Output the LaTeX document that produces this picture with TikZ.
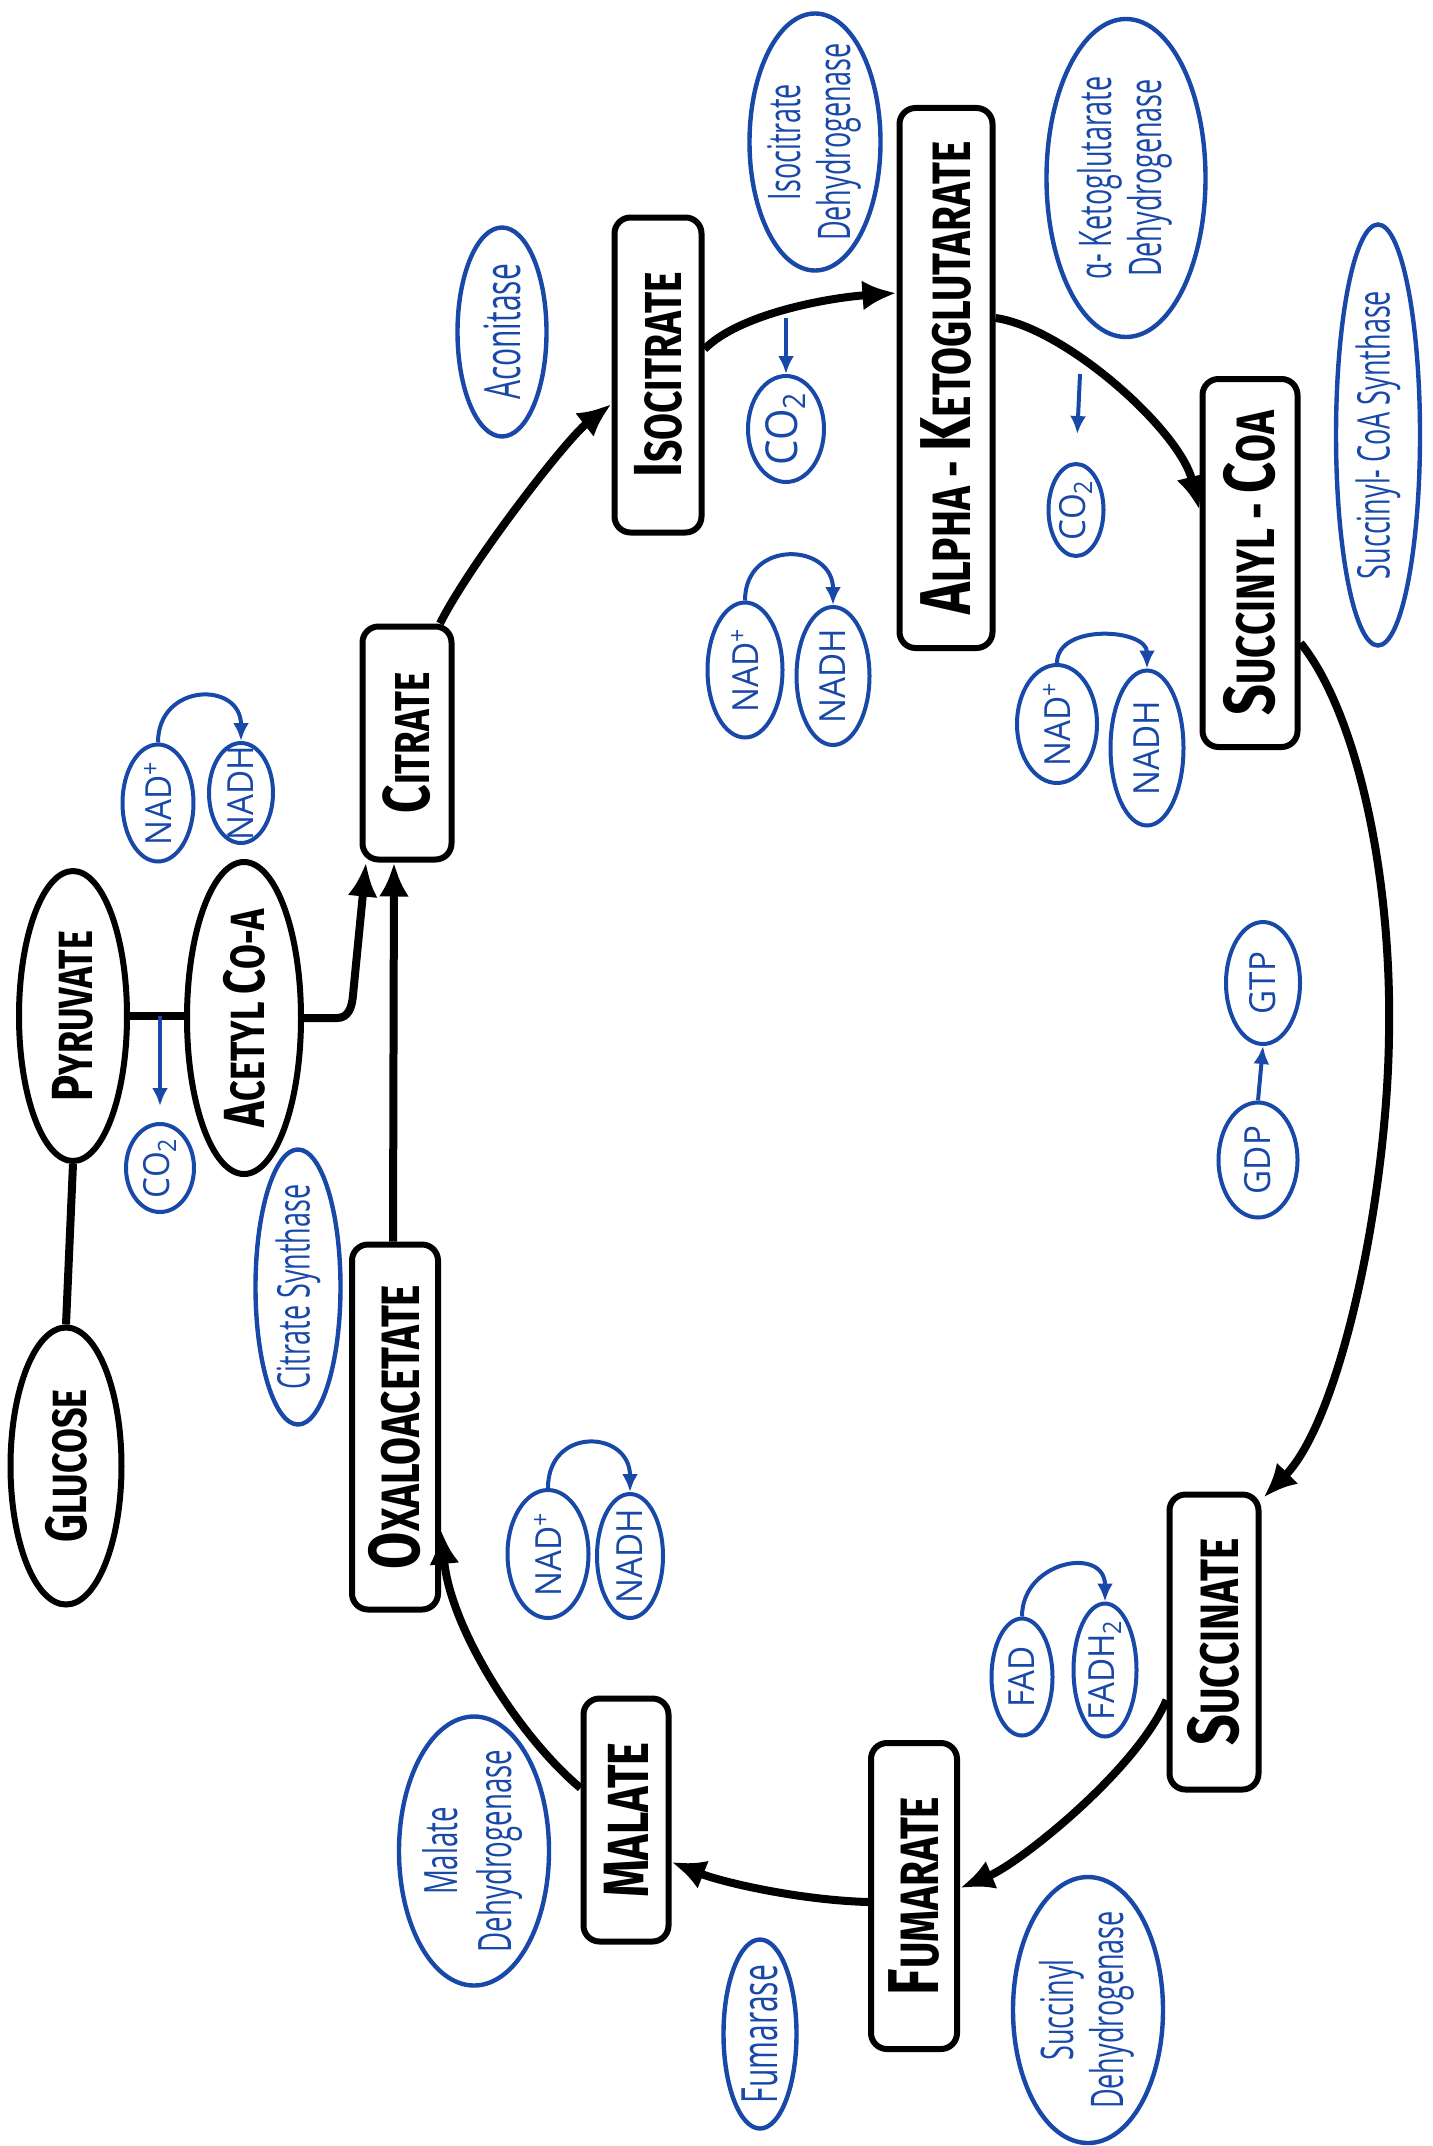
\documentclass[tikz,border=0pt]{standalone}
\usepackage{fontspec}
\usepackage{graphicx}
\usetikzlibrary{shapes.geometric,arrows.meta,calc}

\newfontfamily\capfont[FakeStretch=0.75]{Fira Sans}
\newfontfamily\enzfont[FakeStretch=0.6]{Open Sans}
\newfontfamily\cofont[FakeStretch=0.92]{Open Sans}
\definecolor{inkblue}{RGB}{24,72,168}

% hand-lettered small capitals: one large initial, smaller remainder
\def\capbig{36}
\def\capsmall{27}
\newcommand{\capword}[2]{{\fontsize{\capbig}{\capbig}\selectfont #1}{\fontsize{\capsmall}{\capsmall}\selectfont #2}}
% text set upright along the page, taking no room inside its shape
\newcommand{\vtext}[1]{\makebox[0pt]{\smash{\raisebox{-.5\height}{\rotatebox{90}{#1}}}}}
\newcommand{\twolines}[2]{\begin{tabular}{@{}c@{}}#1\\#2\end{tabular}}

\begin{document}
\begin{tikzpicture}[x=0.5pt,y=-0.5pt,
  sz/.style 2 args={minimum width={#1*0.5pt},minimum height={#2*0.5pt}},
  metab/.style={draw,line width=3pt,rounded corners=8pt,inner sep=0pt,
    font={\capfont\bfseries}},
  fuel/.style={draw,ellipse,line width=3pt,inner sep=0pt,
    font={\capfont\bfseries\def\capbig{29}\def\capsmall{24}}},
  enz/.style={draw=inkblue,ellipse,line width=2.2pt,inner sep=0pt,text=inkblue,
    font={\enzfont\fontsize{22.5}{25}\selectfont}},
  cof/.style={draw=inkblue,ellipse,line width=2pt,inner sep=0pt,text=inkblue,
    font={\cofont\fontsize{18}{18}\selectfont}},
  flow/.style={line width=4pt,-{Latex[length=17pt,width=15pt]}},
  link/.style={line width=4pt},
  blueflow/.style={draw=inkblue,line width=2pt,-{Latex[length=9pt,width=8pt]}}]

\fill[white] (0,0) rectangle (1433,2146);
\useasboundingbox (0,0) rectangle (1433,2146);

% ---------- glycolysis entry ----------
\node[fuel,sz={111}{277}] (glu) at (66,1466) {\vtext{\capword{G}{LUCOSE}}};
\node[fuel,sz={108}{290}] (pyr) at (73,1016) {\vtext{\capword{P}{YRUVATE}}};
\node[fuel,sz={114}{312}] (ace) at (244,1018) {\vtext{\capword{A}{CETYL}\hspace{0.4em}\capword{C}{O-A}}};

% ---------- cycle intermediates ----------
\node[metab,sz={89}{233}] (cit) at (407,743) {\vtext{\def\capbig{33}\def\capsmall{24.5}\capword{C}{ITRATE}}};
\node[metab,sz={87}{315}] (iso) at (658,375) {\vtext{\def\capbig{34}\def\capsmall{26}\capword{I}{SOCITRATE}}};
\node[metab,sz={93}{540}] (akg) at (946,378) {\vtext{\capword{A}{LPHA - }\capword{K}{ETOGLUTARATE}}};
\node[metab,sz={95}{368}] (sco) at (1250,563) {\vtext{\capword{S}{UCCINYL - }\capword{C}{OA}}};
\node[metab,sz={89}{295}] (suc) at (1214,1642) {\vtext{\capword{S}{UCCINATE}}};
\node[metab,sz={86}{306}] (fum) at (914,1896) {\vtext{\capword{F}{UMARATE}}};
\node[metab,sz={85}{243}] (mal) at (626,1820) {\vtext{\def\capbig{32}\def\capsmall{29}\capword{M}{ALATE}}};
\node[metab,sz={86}{365}] (oxa) at (395,1427) {\vtext{\capword{O}{XALOACETATE}}};

% ---------- enzymes ----------
\node[enz,sz={89}{209}] (acon) at (502,332) {\vtext{\fontsize{25}{25}\selectfont Aconitase}};
\node[enz,sz={131}{257}] (idh) at (815,142) {\vtext{\twolines{Isocitrate}{Dehydrogenase}}};
\node[enz,sz={159}{318}] (akgdh) at (1126,178) {\vtext{\twolines{α- Ketoglutarate}{Dehydrogenase}}};
\node[enz,sz={84}{421}] (scs) at (1378,435) {\vtext{Succinyl- CoA Synthase}};
\node[enz,sz={85}{275}] (cs) at (298,1287) {\vtext{Citrate Synthase}};
\node[enz,sz={150}{269}] (mdh) at (474,1851) {\vtext{\fontsize{23}{27}\selectfont\twolines{Malate}{Dehydrogenase}}};
\node[enz,sz={73}{189}] (fumase) at (760,2034) {\vtext{\fontsize{25}{25}\selectfont Fumarase}};
\node[enz,sz={150}{266}] (sdh) at (1088,2010) {\vtext{\twolines{Succinyl}{Dehydrogenase}}};

% ---------- cofactors ----------
\node[cof,sz={71}{117}] (nadA) at (158,803) {\vtext{NAD\textsuperscript{+}}};
\node[cof,sz={64}{100}] (nadhA) at (241,793) {\vtext{NADH}};
\node[cof,sz={68}{88}] (co2A) at (160,1168) {\vtext{CO\textsubscript{2}}};
\node[cof,sz={76}{106}] (co2B) at (786,429) {\vtext{\fontsize{22}{22}\selectfont CO\textsubscript{2}}};
\node[cof,sz={55}{92}] (co2C) at (1076,510) {\vtext{CO\textsubscript{2}}};
\node[cof,sz={75}{135}] (nadB) at (745,670) {\vtext{NAD\textsuperscript{+}}};
\node[cof,sz={73}{138}] (nadhB) at (833,676) {\vtext{NADH}};
\node[cof,sz={80}{118}] (nadC) at (1057,724) {\vtext{NAD\textsuperscript{+}}};
\node[cof,sz={73}{155}] (nadhC) at (1147,748) {\vtext{NADH}};
\node[cof,sz={79}{115}] (gdp) at (1258,1160) {\vtext{GDP}};
\node[cof,sz={74}{122}] (gtp) at (1263,983) {\vtext{GTP}};
\node[cof,sz={61}{117}] (fad) at (1022,1677) {\vtext{FAD}};
\node[cof,sz={63}{133}] (fadh) at (1105,1670) {\vtext{FADH\textsubscript{2}}};
\node[cof,sz={81}{128}] (nadD) at (548,1554) {\vtext{NAD\textsuperscript{+}}};
\node[cof,sz={66}{124}] (nadhD) at (630,1556) {\vtext{NADH}};

% ---------- black connectors ----------
\draw[link] (pyr.south) -- (glu.north);
\draw[link] (pyr.east) -- (pyr.east -| ace.west);
\draw[flow] (ace.east) -- (337,1018) .. controls (348,1018) and (352,1008) .. (353,995)
  -- ($(cit.south)+(-41,0)$);
\draw[flow] ($(oxa.north)+(-2,0)$) -- ($(cit.south)+(-13,0)$);
\draw[flow] ($(cit.north)+(33,0)$) .. controls +(30,-60) and +(-45,35) .. ($(iso.west)+(0,29)$);
\draw[flow] ($(iso.east)+(0,-26)$) .. controls +(35,-35) and +(-70,5) .. ($(akg.west)+(0,-85)$);
\draw[flow] ($(akg.east)+(0,-60)$) .. controls +(70,10) and +(-20,-80) .. ($(sco.west)+(0,-53)$);
\draw[flow] ($(sco.east)+(0,80)$) .. controls (1355,710) and (1392,870) .. (1389,1035)
  .. controls (1387,1200) and (1340,1420) .. ($(suc.north east)+(2,6)$);
\draw[flow] ($(suc.west)+(0,58)$) .. controls +(-30,70) and +(60,-25) .. ($(fum.east)+(0,-8)$);
\draw[flow] ($(fum.west)+(0,6)$) .. controls +(-70,-2) and +(50,20) .. ($(mal.east)+(0,42)$);
\draw[flow] ($(mal.west)+(0,-32)$) .. controls +(-60,-50) and +(10,100) .. ($(oxa.east)+(0,103)$);

% ---------- blue connectors ----------
\coordinate (pdc) at (160,1016);
\coordinate (idc) at (786,318);
\coordinate (kdc) at (1080,374);
\draw[blueflow,shorten >=8pt] (pdc) -- (co2A.north);
\draw[blueflow] (idc) -- (co2B.north);
\draw[blueflow,shorten >=14pt] (kdc) -- (co2C.north);
\draw[blueflow] (gdp.north) -- (gtp.south);
\draw[blueflow] (nadA.north) .. controls +(0,-60) and +(0,-60) .. (nadhA.north);
\draw[blueflow] (nadB.north) .. controls +(0,-62) and +(0,-62) .. (nadhB.north);
\draw[blueflow] (nadC.north) .. controls +(0,-40) and +(0,-40) .. (nadhC.north);
\draw[blueflow] (fad.north) .. controls +(0,-56) and +(0,-56) .. (fadh.north);
\draw[blueflow] (nadD.north) .. controls +(0,-62) and +(0,-62) .. (nadhD.north);

\end{tikzpicture}
\end{document}
